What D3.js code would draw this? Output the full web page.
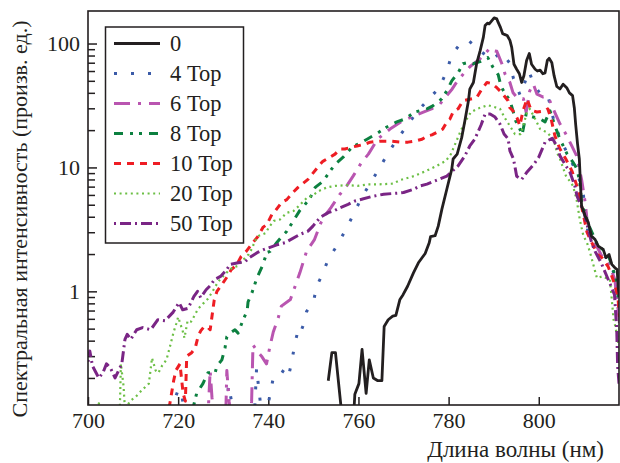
<!DOCTYPE html>
<html>
<head>
<meta charset="utf-8">
<script src="https://cdn.jsdelivr.net/npm/d3@7"></script>
<style>
  body { margin: 0; background: #fff; }
  text { font-family: "Liberation Serif", "Times New Roman", serif; fill: #231f20; }
</style>
</head>
<body>
<svg id="chart" width="620" height="463"></svg>
<script>
// spectra, [wavelength nm, intensity]
const s0 = [[753.3,0.19],[754.1,0.32],[754.9,0.32],[756.1,0.12],[756.8,0.06],[758.6,0.06],[759.2,0.148],[760.1,0.18],[760.8,0.34],[761.7,0.15],[762.4,0.28],[763.3,0.20],[764.3,0.19],[765.2,0.19],[765.7,0.52],[766.6,0.59],[767.6,0.63],[768.3,0.64],[769.2,0.86],[769.9,0.94],[770.9,1.10],[772.2,1.41],[773.3,1.70],[774.8,2.02],[775.7,2.47],[776.0,2.77],[777.0,2.81],[777.7,3.36],[778.5,4.59],[779.6,6.67],[780.7,9.69],[781.0,11.7],[781.9,12.8],[782.9,17.4],[783.6,23.7],[784.4,34.5],[784.7,42.9],[785.5,48.5],[786.2,68.4],[787.0,87.6],[787.7,112],[788.1,140],[788.6,146],[789.0,144],[789.6,153],[790.1,161],[790.7,158],[791.0,148],[791.5,135],[792.0,120],[792.5,118],[793.0,116],[793.6,106],[794.0,93],[794.5,68],[795.1,62],[795.7,57],[796.2,48.5],[796.7,55],[797.3,73],[797.9,83],[798.4,68],[799.2,62],[799.7,60],[800.3,61],[800.9,57],[801.4,58],[801.9,73],[802.3,76],[802.9,70],[803.4,55],[804.0,45],[804.7,43],[805.4,47],[806.2,44],[806.8,40],[807.5,38],[807.9,30],[808.2,22],[808.6,15.5],[809.0,11.7],[809.3,6.7],[809.5,4.9],[810.3,4.05],[811.0,3.58],[811.7,2.79],[812.5,2.62],[813.2,2.32],[814.3,2.18],[814.9,1.87],[815.6,1.98],[816.2,1.65],[816.9,1.55],[817.4,1.50],[817.6,1.10],[817.9,0.9]];

const s4 = [[717,0.08],[720.0,0.16],[720.6,0.16],[722,0.08],[730,0.08],[730.8,0.13],[731.2,0.175],[732,0.12],[733.5,0.08],[736.8,0.08],[737.4,0.24],[737.8,0.175],[738.2,0.13],[739.5,0.1],[741.1,0.20],[742.9,0.23],[743.7,0.22],[744.4,0.20],[745.2,0.27],[745.9,0.38],[746.7,0.50],[747.2,0.47],[747.8,0.54],[748.5,0.69],[750.0,0.81],[750.7,1.10],[751.8,1.32],[753.0,1.70],[754.4,2.1],[755.2,2.32],[757.2,3.16],[758.9,4.19],[760.7,5.71],[762.5,7.33],[764.6,9.8],[766.6,13.1],[768.6,16.9],[770.8,21.7],[772.9,27.9],[775.5,35.3],[778.0,44.3],[779.6,60],[780.7,81],[782.7,101],[784.4,106],[787.4,85],[789.6,74],[791.7,85],[793.5,70],[794.4,52],[795.9,38],[797.8,60],[798.7,49],[800.7,37],[802.1,37],[803.6,21.7],[805.5,15],[807.7,10.3],[809.0,8.0],[809.9,6.0],[810.5,4.0],[811.0,2.8],[812.3,2.26],[813.2,2.11],[815.1,1.86],[816.1,1.64],[816.6,1.41],[817.0,1.10],[817.5,0.91],[817.9,0.7]];

const s6 = [[726.5,0.08],[727.1,0.23],[727.5,0.14],[728.2,0.08],[730.5,0.08],[730.8,0.23],[731.3,0.13],[732,0.08],[735.9,0.08],[736.3,0.13],[736.6,0.37],[737.5,0.33],[738.5,0.30],[739.6,0.26],[740.3,0.35],[741.1,0.47],[742.2,0.61],[742.9,0.76],[744.9,0.86],[747.0,1.41],[748.5,2.11],[750.2,2.6],[751.7,3.6],[752.5,4.05],[753.9,4.74],[755.9,6.08],[757.4,7.1],[758.85,8.55],[760.7,11.0],[762.2,12.8],[764.3,17],[767.0,20.4],[769.9,23.9],[772.5,26.2],[774.4,27.9],[776.2,29.7],[778.1,32.6],[779.6,38],[780.8,43],[781.8,48.9],[783.3,57],[784.7,65],[787.0,75.5],[788.1,83],[789.2,92],[789.9,87.6],[790.7,86.5],[791.8,69],[792.5,57],[793.6,48.5],[794.3,40],[795.4,35.8],[796.6,35.8],[797.2,27.9],[798.0,41.5],[798.8,47],[799.6,39],[801.0,37],[802.1,37],[803.2,29.7],[804.7,22.5],[806.0,18.6],[807.3,15],[808.4,12.4],[809.5,8.0],[810.3,5.2],[810.7,3.8],[811.7,2.79],[812.9,2.3],[814.0,1.92],[815.8,1.6],[816.9,1.24],[817.3,0.86],[817.7,0.67],[817.9,0.55]];

const s8 = [[722.6,0.09],[724.1,0.15],[725.5,0.18],[726.6,0.22],[728.2,0.22],[728.6,0.25],[729.7,0.28],[730.4,0.35],[730.8,0.43],[731.5,0.46],[732.6,0.49],[733.3,0.46],[734.4,0.59],[735.3,0.69],[735.5,0.82],[736.4,0.98],[737.5,1.29],[738.6,1.58],[739.7,2.06],[740.4,2.1],[741.9,2.48],[743.0,2.77],[744.1,3.05],[747.0,4.5],[748.1,5.0],[749.2,5.6],[750.4,6.9],[752.1,7.7],[753.2,8.8],[754.8,10.6],[756.6,12.1],[758.6,14.6],[759.9,15.4],[761.9,16.9],[763.9,18.6],[766.3,21.2],[768.5,23.3],[770.3,24.6],[772.5,28],[775.2,29.7],[776.5,31.4],[778.5,35.8],[779.6,41.5],[780.7,50],[782.1,58],[783.2,68.7],[784.7,70.7],[785.4,68.7],[787.0,71.5],[788.7,77],[789.8,64.7],[791.0,56],[791.6,45.6],[792.5,39.3],[793.6,35],[794.9,23.7],[795.8,20.4],[796.3,18.3],[797.2,27],[798.0,26],[800.3,24.6],[801.4,23.3],[802.5,28.6],[803.6,21.6],[804.7,16.9],[806.3,12.8],[807.6,11.0],[808.5,9.7],[809.1,7.6],[809.5,5.2],[811.0,3.47],[812.5,2.62],[813.2,2.3],[815.2,2.06],[816.3,1.58],[817.0,1.31],[817.7,0.86],[817.9,0.7]];

const s10 = [[717.5,0.09],[718.4,0.14],[719.0,0.19],[719.5,0.23],[720.4,0.26],[721.1,0.15],[721.6,0.13],[721.9,0.30],[723.0,0.32],[723.8,0.35],[724.4,0.43],[725.0,0.48],[725.8,0.52],[726.4,0.52],[727.1,0.49],[728.0,0.85],[728.6,1.0],[729.6,1.12],[730.8,1.3],[731.8,1.5],[732.9,1.62],[734.0,1.92],[735.1,2.1],[736.6,2.48],[737.7,2.77],[738.8,3.28],[739.7,3.47],[740.8,4.18],[741.5,4.43],[743.0,5.24],[744.1,5.5],[745.5,6.3],[746.6,6.9],[748.8,8.0],[749.7,8.8],[751.5,10.6],[752.1,11.2],[753.7,12.1],[754.8,12.8],[755.9,14.1],[757.0,14.1],[758.6,14.6],[759.7,14.9],[761.4,15.4],[762.6,16.0],[764.8,16.3],[767.0,16.3],[769.7,16.0],[771.0,16.0],[772.5,16.3],[774.1,16.9],[775.2,17.9],[776.3,18.3],[777.6,19.4],[778.7,20.4],[779.6,23.3],[780.3,24.6],[781.0,28],[782.1,29.7],[783.2,34.5],[785.2,35.8],[786.3,37],[787.4,43],[788.5,48.5],[789.6,47.5],[790.7,44],[791.8,40],[793.2,34.5],[793.6,30.3],[794.3,28.6],[795.2,25],[795.8,21.7],[796.5,28.6],[797.4,35.8],[798.3,29],[799.6,28],[801.4,28.6],[802.0,29.7],[802.7,25],[803.6,17.9],[804.7,14.1],[806.0,11.7],[807.4,9.3],[808.5,7.0],[809.1,5.7],[810.7,3.0],[811.4,2.62],[813.1,1.98],[814.0,1.87],[815.4,1.58],[815.8,1.45],[816.9,1.13],[817.6,0.86],[817.9,0.62]];

const s20 = [[700,0.1],[702.0,0.11],[702.4,0.125],[702.8,0.11],[707.0,0.09],[707.3,0.26],[707.9,0.17],[708.2,0.11],[709.3,0.13],[710.5,0.14],[712.0,0.16],[713.5,0.18],[714.2,0.29],[715.0,0.23],[715.6,0.22],[716.4,0.25],[717.4,0.28],[718.2,0.36],[719.0,0.47],[719.6,0.55],[720.0,0.62],[721.0,0.48],[721.4,0.42],[722.1,0.58],[722.9,0.57],[724.4,0.72],[725.6,0.80],[726.6,0.87],[727.5,0.98],[728.9,1.2],[730.6,1.4],[732.0,1.55],[733.2,1.6],[734.3,1.78],[735.6,1.98],[736.4,2.22],[737.0,2.54],[737.8,2.8],[739.4,2.95],[740.1,3.27],[741.2,3.7],[742.6,3.8],[744.1,4.3],[745.6,4.45],[746.8,4.9],[748.6,5.7],[749.7,5.9],[751.2,6.45],[753.0,6.9],[754.9,7.1],[757.5,7.2],[759.8,7.1],[762.2,7.3],[764.4,7.3],[767.7,7.4],[769.2,7.9],[772.5,8.55],[775.1,9.4],[777.4,10.3],[779.4,11.3],[780.5,12.8],[781.6,15.9],[782.7,19.8],[783.8,23.8],[784.9,27.8],[786.3,29.7],[788.7,31.8],[790.3,30.6],[791.4,29.7],[792.5,25],[793.6,21.6],[794.7,18.6],[796.0,18.6],[797.5,28.6],[798.0,29.7],[799.3,24.2],[800.3,20.4],[801.8,19.2],[803.3,16.9],[804.0,13.3],[804.7,11.7],[806.0,8.6],[807.6,7.1],[808.4,5.5],[809.1,3.8],[809.9,2.8],[810.7,2.47],[811.4,2.05],[812.5,1.45],[812.9,1.28],[814.1,1.32],[815.8,1.24],[816.2,0.86],[816.6,0.59],[817.0,0.52],[817.5,0.41],[817.9,0.33]];

const s50 = [[700.0,0.27],[700.4,0.33],[701.0,0.25],[702.4,0.20],[703.3,0.22],[704.1,0.26],[705.0,0.24],[706.0,0.20],[707.5,0.26],[708.2,0.41],[708.7,0.45],[709.5,0.41],[710.8,0.49],[712.1,0.51],[713.9,0.49],[715.5,0.59],[717.1,0.58],[718.9,0.68],[719.6,0.75],[720.2,0.81],[721.0,0.71],[722.2,0.73],[723.5,0.91],[724.3,1.0],[725.0,0.89],[726.2,1.03],[727.3,1.13],[728.0,1.24],[729.4,1.32],[730.8,1.50],[731.5,1.65],[733.3,1.7],[734.9,1.74],[735.7,1.86],[737.6,2.06],[739.1,2.18],[742.2,2.39],[743.7,2.47],[747.0,2.88],[748.8,3.06],[749.9,3.36],[751.5,3.95],[753.3,4.32],[754.5,4.45],[755.9,4.73],[757.7,5.04],[759.2,5.36],[760.7,5.53],[762.9,5.82],[764.5,5.97],[765.6,6.08],[768.6,6.2],[770.0,6.28],[772.2,6.66],[773.7,7.1],[775.2,7.33],[777.0,7.8],[779.6,8.5],[782.1,10.3],[783.6,12.4],[784.7,14.9],[785.8,16.9],[787.2,22],[788.1,27],[789.2,27],[790.3,25.5],[791.4,22.4],[792.3,18.6],[793.2,17],[793.6,13.6],[794.4,11.7],[795.1,8.5],[796.2,8.0],[797.3,9.1],[798.9,10.6],[800.0,12.1],[801.4,16.0],[803.0,17.2],[804.0,14.9],[804.7,12.4],[806.1,10.2],[806.9,9.2],[808.0,7.1],[808.5,5.85],[809.1,5.2],[810.0,4.35],[810.6,3.6],[811.7,2.48],[812.5,2.1],[813.8,1.71],[815.9,1.13],[816.8,0.94],[817.3,0.49],[817.5,0.25],[817.8,0.18]];

const labels = ["0", "4 Тор", "6 Тор", "8 Тор", "10 Тор", "20 Тор", "50 Тор"];
const xTicks = [700, 720, 740, 760, 780, 800];
const yLabelled = [1, 10, 100];

const seriesData = [s0, s4, s6, s8, s10, s20, s50];
const colors = ["#231f20", "#3b5ba8", "#b955b0", "#0c8040", "#ee1d24", "#6cbf45", "#7a2585"];
const dashes = [null, "3,14", "16,8,3,8", "9,7,3,6,3,7", "7,6", "2,3.6", "2,4,11,4"];
const widths = [2.8, 3, 3, 3, 3, 2.2, 3];

const svg = d3.select("#chart");
const plotLeft = 88, plotRight = 619, plotTop = 11, plotBottom = 405;

const x = d3.scaleLinear().domain([700, 817.8]).range([plotLeft, plotRight]);
const y = d3.scaleLog().domain([0.121, 183]).range([plotBottom, plotTop]);

svg.append("defs").append("clipPath").attr("id", "plot")
  .append("rect").attr("x", plotLeft).attr("y", plotTop)
  .attr("width", plotRight - plotLeft).attr("height", plotBottom - plotTop);

// axes
const gx = svg.append("g").attr("transform", `translate(0,${plotBottom})`)
  .call(d3.axisBottom(x).tickValues(xTicks).tickSize(-8).tickPadding(7).tickFormat(d3.format("d")));
gx.select(".domain").remove();
gx.attr("font-family", null).attr("font-size", null);
gx.selectAll("text").style("font-size", "22px");
gx.selectAll("line").attr("stroke", "#231f20").attr("stroke-width", 1.5);

const yTicks = [];
[0.1, 1, 10].forEach(dec => { for (let k = 1; k < 10; k++) yTicks.push(dec * k); });
yTicks.push(100);
const yTicksIn = yTicks.filter(v => v >= 0.121 && v <= 183);
const isMajor = d => yLabelled.some(v => Math.abs(v - d) < 1e-9);

const gy = svg.append("g").attr("transform", `translate(${plotLeft},0)`)
  .call(d3.axisLeft(y).tickValues(yTicksIn).tickSize(-9).tickPadding(8)
    .tickFormat(d => isMajor(d) ? d3.format("d")(d) : ""));
gy.select(".domain").remove();
gy.attr("font-family", null).attr("font-size", null);
gy.selectAll("text").style("font-size", "22px");
gy.selectAll("line").attr("stroke", "#231f20").attr("stroke-width", 1.5)
  .attr("x2", d => isMajor(d) ? 9 : 7);

// curves
const line = d3.line().x(d => x(d[0])).y(d => y(d[1]));
const plot = svg.append("g").attr("clip-path", "url(#plot)");
const order = [1, 2, 3, 4, 5, 6, 0];
order.forEach(i => {
  plot.append("path")
    .datum(seriesData[i])
    .attr("d", line)
    .attr("fill", "none")
    .attr("stroke", colors[i])
    .attr("stroke-width", widths[i])
    .attr("stroke-linejoin", "round")
    .attr("stroke-dasharray", dashes[i]);
});

// frame
svg.append("rect").attr("x", plotLeft).attr("y", plotTop)
  .attr("width", plotRight - plotLeft).attr("height", plotBottom - plotTop)
  .attr("fill", "none").attr("stroke", "#231f20").attr("stroke-width", 1.6);

// legend
const lg = svg.append("g");
lg.append("rect").attr("x", 105.5).attr("y", 27).attr("width", 138).attr("height", 216)
  .attr("fill", "#fff").attr("stroke", "#231f20").attr("stroke-width", 1.5);
labels.forEach((name, i) => {
  const yy = 43.5 + i * 30;
  lg.append("line").attr("x1", 114).attr("x2", 160).attr("y1", yy).attr("y2", yy)
    .attr("stroke", colors[i]).attr("stroke-width", widths[i])
    .attr("stroke-dasharray", dashes[i]);
  lg.append("text").attr("x", 170).attr("y", yy + 7.5).style("font-size", "22.5px").text(name);
});

// axis titles
svg.append("text").attr("transform", "translate(27,219) rotate(-90)")
  .attr("text-anchor", "middle").style("font-size", "22px")
  .text("Спектральная интенсивность (произв. ед.)");
svg.append("text").attr("x", 604).attr("y", 457).attr("text-anchor", "end")
  .style("font-size", "23px").text("Длина волны (нм)");
</script>
</body>
</html>
